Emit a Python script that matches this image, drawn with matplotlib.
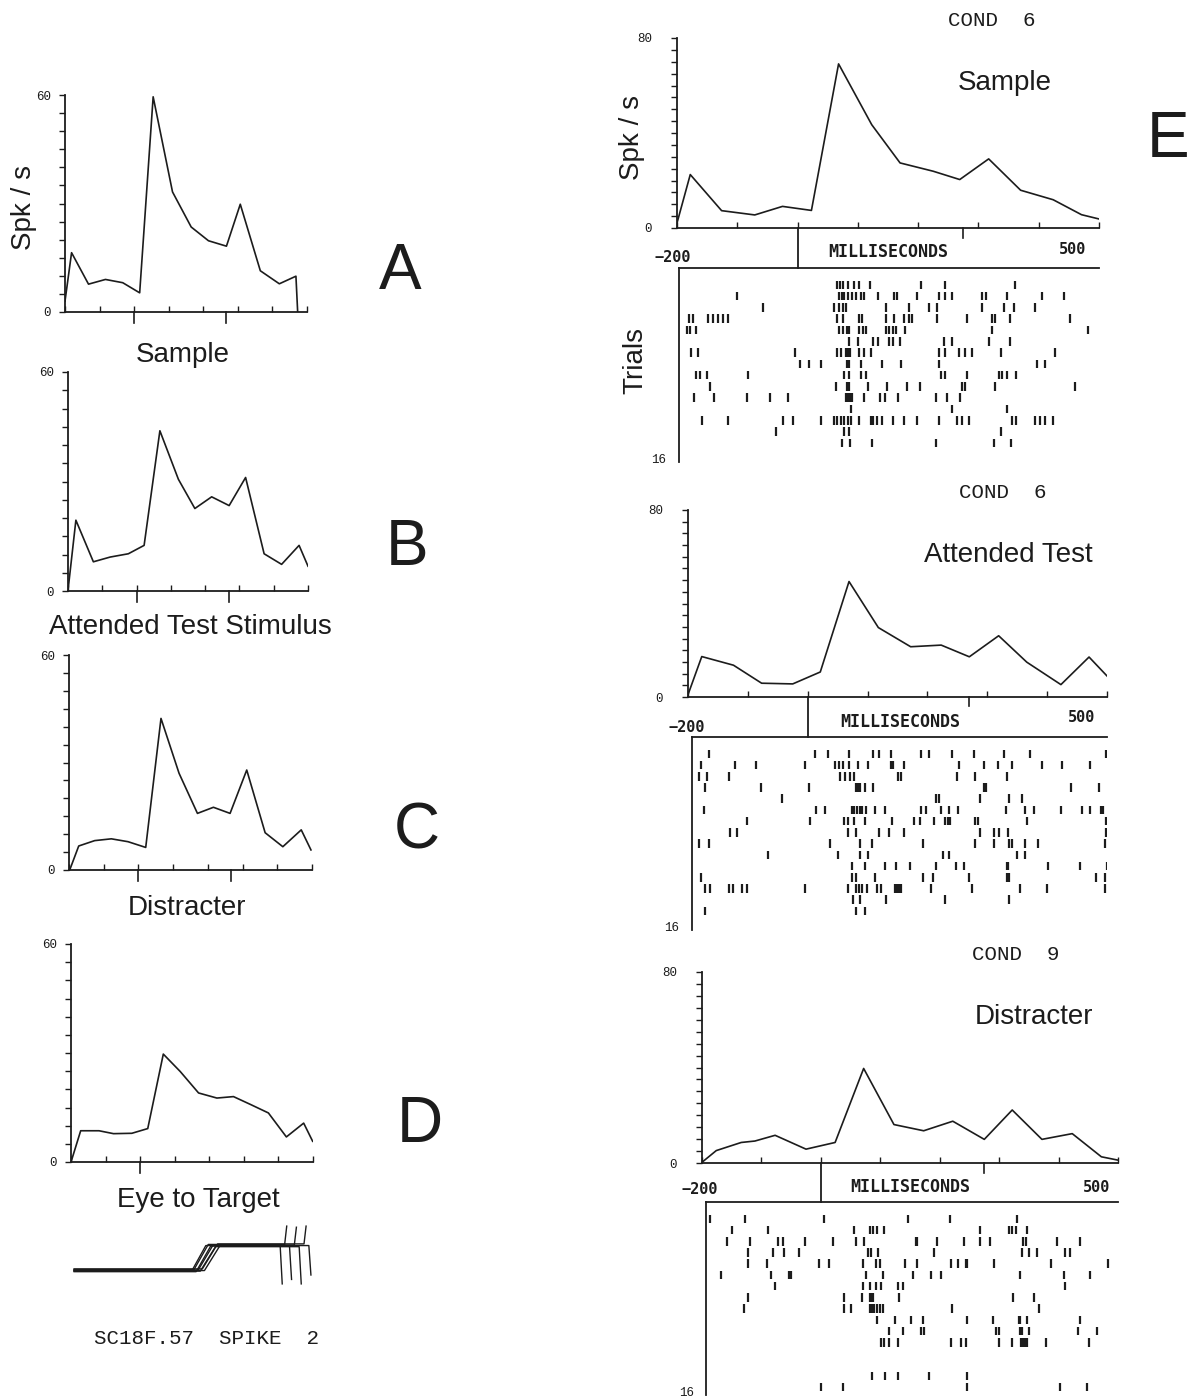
import matplotlib
matplotlib.use("Agg")
import matplotlib.pyplot as plt
from matplotlib.ticker import MultipleLocator
import numpy as np

# ---- left column: population histograms (spk/s vs ms) ----
t_A = [-200, -181, -132, -83, -33, 16, 55, 111, 165, 215, 267, 307, 365, 420, 468, 473]
rate_A = [3, 16.4, 7.7, 9, 8.1, 5.3, 59.5, 33.2, 23.5, 19.7, 18.2, 29.8, 11.4, 7.8, 9.9, 0]
t_B = [-199, -177, -126, -77, -24, 22, 68, 122, 170, 219, 270, 318, 372, 423, 474, 500]
rate_B = [1, 19.4, 8.0, 9.3, 10.2, 12.5, 43.9, 30.6, 22.6, 25.8, 23.4, 31.1, 10.2, 7.3, 12.5, 6.8]
t_C = [-198, -172, -126, -78, -30, 21, 65, 117, 170, 216, 264, 312, 365, 416, 469, 497]
rate_C = [0, 6.7, 8.2, 8.7, 7.9, 6.3, 42.3, 27.0, 15.8, 17.5, 15.8, 27.9, 10.4, 6.5, 11.2, 5.6]
t_D = [-198, -172, -119, -77, -24, 22, 67, 116, 169, 222, 270, 320, 371, 423, 473, 499]
rate_D = [0.6, 8.6, 8.6, 7.8, 7.9, 9.2, 29.7, 24.9, 19.0, 17.6, 18.0, 15.8, 13.5, 6.9, 10.7, 5.7]

# event marks under the left histograms (ms)
marks_A = [0, 267]
marks_B = [0, 270]
marks_C = [0, 268]
marks_D = [0]

# eye traces (ms, arbitrary position units)
eye_t_on = [150, 156, 162, 168, 174, 180, 186]
eye_t_off = [190, 197, 204, 211, 218, 224, 231]
eye_low = [-1.4, -1.3, -1.5, -1.35, -1.45, -1.25, -1.4]
eye_high = [0.85, 0.95, 0.8, 0.9, 0.75, 1.0, 0.85]
eye_t_exit = [405, 418, 432, 446, 460, 474, 488]
eye_exit = [-2.6, 2.6, -2.2, 2.5, -2.6, 2.6, -1.8]

# ---- right column (E): histograms ----
t_E1 = [-200, -178, -126, -71, -25, 23, 68, 123, 170, 225, 269, 317, 370, 424, 471, 500]
rate_E1 = [2.1, 22.5, 7.3, 5.5, 9.1, 7.4, 69.1, 43.5, 27.4, 23.9, 20.4, 29.1, 15.9, 11.9, 5.6, 3.8]
t_E2 = [-200, -177, -124, -77, -25, 21, 69, 118, 172, 223, 270, 319, 366, 423, 470, 500]
rate_E2 = [1, 17.3, 13.6, 5.9, 5.6, 10.7, 49.4, 29.7, 21.5, 22.2, 17.2, 26.2, 14.9, 5.3, 17.1, 9.0]
t_E3 = [-200, -176, -134, -111, -77, -25, 24, 72, 123, 173, 222, 275, 322, 372, 423, 472, 500]
rate_E3 = [0.3, 5.2, 8.6, 9.2, 11.6, 5.8, 8.6, 39.6, 16.1, 13.5, 17.5, 9.9, 22.2, 9.9, 12.3, 2.6, 1.2]

# ---- rasters: spike times (ms) per trial ----
spikes_E1 = [
    [63, 69, 74, 81, 92, 100, 119, 204, 244, 360],
    [-104, 67, 71, 75, 81, 88, 95, 103, 109, 131, 159, 164, 196, 233, 244, 255, 305, 312, 347, 405, 441],
    [-60, 59, 66, 73, 78, 145, 183, 217, 230, 305, 341, 358, 394],
    [-183, -176, -151, -143, -135, -126, -118, 64, 74, 100, 105, 145, 159, 175, 183, 189, 230, 280, 322, 327, 352, 452],
    [-187, -182, -171, 66, 73, 80, 84, 100, 106, 112, 145, 150, 156, 161, 176, 322, 482],
    [84, 98, 123, 131, 150, 156, 168, 242, 255, 316, 352],
    [-180, -168, -7, 63, 70, 78, 82, 85, 100, 109, 120, 233, 244, 266, 276, 289, 336, 427],
    [1, 17, 36, 80, 84, 103, 139, 170, 233, 397, 410],
    [-172, -165, -154, -85, 75, 84, 103, 112, 236, 244, 280, 333, 338, 347, 361],
    [-149, 62, 80, 84, 115, 147, 180, 202, 272, 277, 327, 460],
    [-175, -141, -86, -49, -18, 79, 82, 85, 88, 109, 135, 143, 165, 228, 247, 268],
    [87, 255, 347],
    [-162, -119, -27, -10, 36, 58, 64, 70, 75, 81, 87, 100, 120, 124, 130, 139, 156, 175, 196, 233,
     264, 272, 283, 355, 361, 394, 402, 410, 424],
    [-39, 75, 84, 336],
    [71, 85, 121, 228, 325, 353],
]
spikes_E2 = [
    [-172, 7, 30, 64, 105, 116, 136, 186, 200, 238, 276, 326, 370, 499],
    [-184, -127, -92, -10, 41, 48, 55, 64, 80, 97, 135, 139, 157, 251, 292, 316, 340, 391, 424, 471],
    [-189, -175, -137, 49, 58, 66, 73, 147, 153, 247, 277, 332],
    [-178, -84, -3, 77, 80, 84, 91, 105, 292, 296, 440, 487],
    [-49, 211, 217, 285, 335, 357],
    [-180, 10, 24, 70, 74, 79, 83, 87, 94, 108, 125, 187, 195, 220, 234, 248, 329, 361, 377, 423, 458, 471, 490, 493],
    [-108, -1, 56, 63, 74, 91, 137, 175, 185, 209, 226, 231, 236, 277, 282, 365, 499],
    [-136, -124, 63, 77, 115, 132, 157, 285, 310, 318, 333, 499],
    [-189, -172, 32, 84, 104, 189, 277, 309, 335, 339, 361, 384, 497],
    [-71, 46, 83, 97, 223, 234, 349, 361],
    [70, 91, 125, 144, 167, 211, 245, 259, 331, 333, 400, 454, 500],
    [-185, 70, 77, 108, 189, 206, 268, 332, 335, 481, 496],
    [-178, -169, -138, -130, -116, -108, -10, 63, 77, 81, 86, 96, 112, 118, 142, 146, 150, 153, 203,
     273, 353, 399, 497],
    [72, 83, 128, 226, 335],
    [-178, 77, 91],
]
spikes_E3 = [
    [-193, -134, 1, 144, 215, 328],
    [-156, -94, 51, 78, 83, 91, 102, 266, 314, 320, 326, 346],
    [-164, -126, -77, -69, -31, 16, 55, 69, 157, 159, 193, 238, 266, 283, 338, 344, 396, 435],
    [-128, -87, -67, -42, 75, 80, 92, 187, 337, 348, 362, 410, 418],
    [-128, -96, -8, 9, 66, 89, 95, 138, 159, 216, 228, 242, 244, 289, 386, 483],
    [-174, -90, -59, -55, 72, 100, 151, 183, 200, 334, 408, 452],
    [-82, 66, 79, 89, 97, 126, 134, 410],
    [-128, 34, 65, 78, 80, 83, 128, 322, 358],
    [-135, 34, 46, 78, 82, 85, 91, 96, 100, 218, 365],
    [91, 121, 148, 168, 244, 288, 331, 334, 345, 435],
    [111, 134, 165, 170, 293, 297, 333, 337, 348, 432, 465],
    [97, 103, 111, 126, 216, 233, 241, 297, 320, 335, 338, 342, 345, 378, 451],
    [],
    [],
    [82, 104, 126, 179, 244],
    [-4, 33, 244, 402, 448],
]

ink = "#1c1c1c"
W, H = 1197, 1399
plt.rcParams['font.family'] = ['Liberation Sans', 'DejaVu Sans']
fig = plt.figure(figsize=(W / 100, H / 100), dpi=100)


def box(l, t, r, b):
    return fig.add_axes([l / W, 1 - b / H, (r - l) / W, (b - t) / H])


def ftext(x, y, s, **kw):
    fig.text(x / W, 1 - y / H, s, ha='center', va='center', color=ink, **kw)


def hist_axes(ax, t, rate, ymax, pad, marks):
    ax.plot(t, rate, color=ink, lw=1.2)
    ax.set_xlim(-200, 500)
    ax.set_ylim(0, ymax)
    for s in ['top', 'right']:
        ax.spines[s].set_visible(False)
    for s in ['left', 'bottom']:
        ax.spines[s].set_linewidth(1.3)
        ax.spines[s].set_color(ink)
    ax.set_yticks([0, ymax])
    ax.set_yticklabels(['0', str(ymax)], fontsize=9, family='Liberation Mono', color=ink)
    ax.yaxis.set_minor_locator(MultipleLocator(5))
    ax.tick_params(axis='y', which='both', direction='out', length=4, width=1, pad=pad, colors=ink)
    ax.set_xticks(np.arange(-200, 501, 100))
    ax.set_xticklabels([])
    ax.tick_params(axis='x', direction='in', length=4, width=1, colors=ink)
    for m in marks:
        ax.plot([m, m], [0, -0.05], transform=ax.get_xaxis_transform(),
                clip_on=False, color=ink, lw=1.2)
    ax.patch.set_alpha(0)


# ---- left panels ----
left_panels = [
    ((65, 95, 307, 312), t_A, rate_A, marks_A, "Sample", (183, 355), "A", (400, 272)),
    ((68, 372, 308, 591), t_B, rate_B, marks_B, "Attended Test Stimulus", (190, 627), "B", (407, 548)),
    ((69, 655, 312, 870), t_C, rate_C, marks_C, "Distracter", (187, 908), "C", (417, 832)),
    ((71, 944, 313, 1162), t_D, rate_D, marks_D, "Eye to Target", (198, 1200), "D", (420, 1125)),
]
for bx, t, r, mk, lab, lxy, let, lexy in left_panels:
    ax = box(*bx)
    hist_axes(ax, t, r, 60, 6, mk)
    ftext(lxy[0], lxy[1], lab, fontsize=20)
    ftext(lexy[0], lexy[1], let, fontsize=46)

ftext(24, 208, "Spk / s", fontsize=20, rotation=90)

# eye position traces
ax_eye = box(71, 1225, 313, 1285)
for on, off, lo, hi, te, ye in zip(eye_t_on, eye_t_off, eye_low, eye_high, eye_t_exit, eye_exit):
    ax_eye.plot([-191, on, off, te, te + 6], [lo, lo, hi, hi, ye], color=ink, lw=1.0)
ax_eye.set_xlim(-200, 500)
ax_eye.set_ylim(-2.7, 2.7)
ax_eye.axis('off')

ftext(207, 1338, "SC18F.57  SPIKE  2", fontsize=15, family='Liberation Mono')

# ---- panel E ----
right_panels = [
    ((677, 38, 1099, 228), (679, 268, 1099, 462), t_E1, rate_E1, spikes_E1, 275,
     "COND  6", (992, 20), "Sample", (1005, 83), (673, 257), (888, 252), (1073, 250)),
    ((688, 510, 1107, 697), (692, 737, 1107, 930), t_E2, rate_E2, spikes_E2, 270,
     "COND  6", (1003, 493), "Attended Test", (1008, 555), (687, 727), (900, 722), (1082, 718)),
    ((702, 972, 1118, 1163), (706, 1202, 1118, 1395), t_E3, rate_E3, spikes_E3, 275,
     "COND  9", (1016, 955), "Distracter", (1034, 1017), (700, 1190), (910, 1187), (1097, 1187)),
]
for hb, rb, t, r, sp, mk2, cond, cxy, title, txy, lxy, mxy, rxy in right_panels:
    axh = box(*hb)
    hist_axes(axh, t, r, 80, 14, [mk2])
    # stimulus onset line through the label strip
    gap = (rb[1] - hb[3]) / (hb[3] - hb[1])
    axh.plot([0, 0], [0, -gap], transform=axh.get_xaxis_transform(),
             clip_on=False, color=ink, lw=1.3)
    ftext(cxy[0], cxy[1], cond, fontsize=15, family='Liberation Mono')
    ftext(txy[0], txy[1], title, fontsize=20)
    ftext(lxy[0], lxy[1], "\u2212200", fontsize=11, family='DejaVu Sans Mono', weight='bold')
    ftext(mxy[0], mxy[1], "MILLISECONDS", fontsize=12, family='DejaVu Sans Mono', weight='bold')
    ftext(rxy[0], rxy[1], "500", fontsize=11, family='DejaVu Sans Mono', weight='bold')

    axr = box(*rb)
    for i, row in enumerate(sp):
        if row:
            axr.vlines(row, i + 1 - 0.38, i + 1 + 0.38, color=ink, lw=1.6)
    axr.set_xlim(-200, 500)
    axr.set_ylim(16.7, -0.5)
    for s in ['bottom', 'right']:
        axr.spines[s].set_visible(False)
    for s in ['top', 'left']:
        axr.spines[s].set_linewidth(1.3)
        axr.spines[s].set_color(ink)
    axr.set_xticks([])
    axr.set_yticks([])
    axr.text(-0.03, 0.01, "16", transform=axr.transAxes, ha='right', va='center',
             fontsize=9, family='Liberation Mono', color=ink)
    axr.patch.set_alpha(0)

ftext(632, 137, "Spk / s", fontsize=20, rotation=90)
ftext(635, 360, "Trials", fontsize=20, rotation=90)
ftext(1168, 140, "E", fontsize=46)

fig.savefig("out.png", dpi=100, facecolor="white")
